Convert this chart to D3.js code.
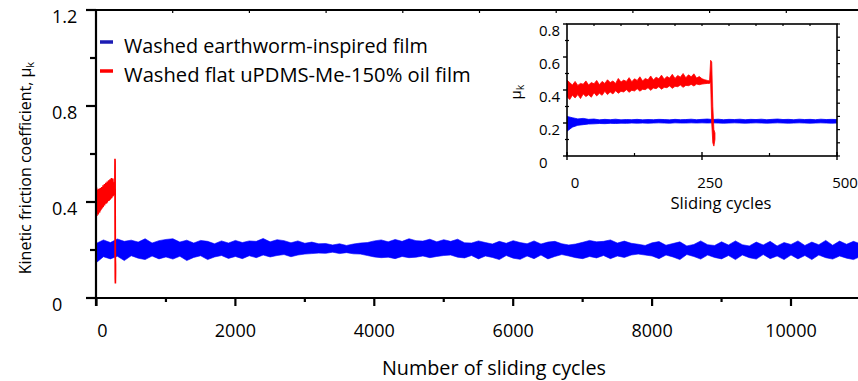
<!DOCTYPE html>
<html><head><meta charset="utf-8">
<script src="https://cdn.jsdelivr.net/npm/d3@7"></script>
<style>
html,body{margin:0;padding:0;background:#fff;}
svg{display:block;font-family:"Open Sans","Noto Sans",sans-serif;}
</style></head>
<body><svg id="c" width="858" height="381"></svg>
<script>
// ---------- DATA ----------
// main chart: blue band envelope, every 100 cycles from 0 to 11000
const blueMainCycles = [0,100,200,300,400,500,600,700,800,900,1000,1100,1200,1300,1400,1500,1600,1700,1800,1900,2000,2100,2200,2300,2400,2500,2600,2700,2800,2900,3000,3100,3200,3300,3400,3500,3600,3700,3800,3900,4000,4100,4200,4300,4400,4500,4600,4700,4800,4900,5000,5100,5200,5300,5400,5500,5600,5700,5800,5900,6000,6100,6200,6300,6400,6500,6600,6700,6800,6900,7000,7100,7200,7300,7400,7500,7600,7700,7800,7900,8000,8100,8200,8300,8400,8500,8600,8700,8800,8900,9000,9100,9200,9300,9400,9500,9600,9700,9800,9900,10000,10100,10200,10300,10400,10500,10600,10700,10800,10900,11000];
const blueMainHigh = [0.228,0.242,0.231,0.246,0.236,0.241,0.233,0.247,0.229,0.239,0.244,
  0.247,0.233,0.241,0.229,0.24,0.236,0.226,0.238,0.229,0.24,
  0.231,0.238,0.236,0.248,0.234,0.243,0.239,0.23,0.238,0.228,
  0.233,0.226,0.227,0.221,0.226,0.219,0.225,0.229,0.231,0.238,
  0.242,0.234,0.244,0.236,0.247,0.239,0.237,0.245,0.234,0.243,
  0.236,0.245,0.23,0.229,0.238,0.231,0.225,0.236,0.228,0.239,
  0.231,0.226,0.238,0.225,0.233,0.236,0.226,0.221,0.225,0.232,
  0.24,0.234,0.236,0.242,0.229,0.237,0.228,0.224,0.219,0.23,
  0.235,0.22,0.227,0.234,0.217,0.223,0.238,0.222,0.219,0.234,
  0.221,0.238,0.222,0.217,0.233,0.221,0.236,0.217,0.231,0.223,
  0.238,0.219,0.233,0.222,0.24,0.22,0.237,0.224,0.236,0.226];
const blueMainLow = [0.148,0.172,0.163,0.174,0.156,0.176,0.166,0.16,0.175,0.163,0.171,
  0.162,0.174,0.156,0.169,0.176,0.16,0.171,0.177,0.165,0.173,
  0.164,0.176,0.168,0.179,0.171,0.177,0.181,0.172,0.179,0.183,
  0.185,0.187,0.186,0.191,0.185,0.189,0.184,0.183,0.177,0.171,
  0.168,0.17,0.164,0.173,0.168,0.17,0.175,0.168,0.173,0.177,
  0.179,0.17,0.167,0.177,0.163,0.175,0.169,0.16,0.177,0.166,
  0.161,0.175,0.164,0.179,0.163,0.173,0.181,0.175,0.168,0.164,
  0.173,0.167,0.177,0.164,0.175,0.169,0.179,0.183,0.179,0.175,
  0.164,0.179,0.171,0.16,0.181,0.173,0.162,0.179,0.169,0.163,
  0.177,0.16,0.179,0.168,0.162,0.181,0.164,0.175,0.16,0.179,
  0.163,0.177,0.16,0.179,0.168,0.162,0.175,0.166,0.16,0.173];

// red band envelope (flat film), cycles 0..274
const redCycles = [0,5,10,15,20,25,30,35,40,45,50,55,60,65,70,75,80,85,90,95,100,105,110,115,120,125,130,135,140,145,150,155,160,165,170,175,180,185,190,195,200,205,210,215,220,225,230,235,240,245,250,255,260,264,266,268,270,272,274];
const redHigh = [0.46,0.445,0.43,0.452,0.428,0.44,0.435,0.455,0.43,0.445,0.438,0.458,0.432,0.452,0.44,0.462,0.445,0.455,0.44,0.47,0.448,0.46,0.452,0.475,0.45,0.468,0.458,0.48,0.455,0.47,0.462,0.485,0.46,0.478,0.468,0.49,0.465,0.482,0.472,0.495,0.47,0.488,0.478,0.5,0.474,0.492,0.48,0.498,0.472,0.482,0.468,0.462,0.458,0.455,0.58,0.57,0.3,0.16,0.14];
const redLow = [0.36,0.342,0.368,0.352,0.372,0.348,0.376,0.36,0.371,0.356,0.384,0.364,0.38,0.368,0.392,0.372,0.388,0.376,0.396,0.38,0.392,0.388,0.402,0.386,0.398,0.394,0.408,0.393,0.404,0.402,0.414,0.398,0.412,0.408,0.42,0.405,0.416,0.414,0.425,0.41,0.422,0.42,0.43,0.416,0.428,0.426,0.434,0.424,0.436,0.432,0.436,0.438,0.44,0.44,0.45,0.2,0.08,0.06,0.1];

// inset blue band envelope, cycles 0..500 every 10
const blueInsetCycles = [0,10,20,30,40,50,60,70,80,90,100,110,120,130,140,150,160,170,180,190,200,210,220,230,240,250,260,270,280,290,300,310,320,330,340,350,360,370,380,390,400,410,420,430,440,450,460,470,480,490,500];
const blueInsetHigh = [0.24,0.232,0.225,0.228,0.222,0.224,0.219,0.222,0.22,0.223,0.219,0.221,0.22,0.222,0.219,0.221,0.22,0.222,0.221,0.219,0.222,0.22,0.221,0.223,0.22,0.222,0.224,0.221,0.223,0.22,0.222,0.221,0.223,0.22,0.222,0.221,0.223,0.22,0.222,0.224,0.221,0.222,0.22,0.223,0.221,0.222,0.22,0.223,0.221,0.222,0.221];
const blueInsetLow = [0.15,0.175,0.186,0.19,0.194,0.195,0.197,0.196,0.198,0.197,0.199,0.198,0.2,0.199,0.2,0.199,0.2,0.201,0.2,0.199,0.201,0.2,0.2,0.201,0.2,0.201,0.2,0.201,0.2,0.199,0.2,0.201,0.2,0.199,0.2,0.201,0.2,0.199,0.2,0.201,0.2,0.199,0.2,0.201,0.2,0.199,0.2,0.201,0.2,0.199,0.2];

// axis ticks and labels
const mainYTicks = [0,0.4,0.8,1.2];
const mainYMinor = [0.2,0.6,1.0];
const mainXTicks = [0,2000,4000,6000,8000,10000];
const mainXMinor = [1000,3000,5000,7000,9000];
const topTicks = [0,1,2,3,4,5,6,7,8,9,10];
const insetYTicks = [0,0.2,0.4,0.6,0.8];
const insetYMinor = [0.1,0.3,0.5,0.7];
const insetRightTicks = [0,0.08,0.16,0.24,0.32,0.4,0.48,0.56,0.64,0.72,0.8];
const insetXTicks = [0,250,500];
const insetXMinor = [125,375];
const insetTopTicks = [50,100,150,200,250,300,350,400,450];
const seriesNames = ["Washed earthworm-inspired film","Washed flat uPDMS-Me-150% oil film"];
const seriesColors = ["#0000ff","#ff0000"];
const legendColors = ["#1c1cb4","#ff0000"];

// ---------- DRAW ----------
const svg = d3.select("#c");
const xMain = d3.scaleLinear().domain([0,10000]).range([96.5,791]);
const yMain = d3.scaleLinear().domain([0,1.2]).range([298,10]);
const xIn = d3.scaleLinear().domain([0,500]).range([567,837]);
const yIn = d3.scaleLinear().domain([0,0.8]).range([156,24]);

function fit(sel, target){
  const n = sel.node(); const w = n.getComputedTextLength();
  const fs = parseFloat(sel.attr("font-size"));
  sel.attr("font-size", (fs*target/w).toFixed(2));
}

const blueMain = blueMainCycles.map((c,i)=>({c, hi:blueMainHigh[i], lo:blueMainLow[i]}));
const red = redCycles.map((c,i)=>({c, hi:redHigh[i], lo:redLow[i]}));
const blueInset = blueInsetCycles.map((c,i)=>({c, hi:blueInsetHigh[i], lo:blueInsetLow[i]}));

// clip main plot at right edge
svg.append("clipPath").attr("id","mclip").append("rect").attr("x",96).attr("y",10).attr("width",762).attr("height",288);
const areaMain = d3.area().x(d=>xMain(d.c)).y0(d=>yMain(d.lo)).y1(d=>yMain(d.hi));
const gm = svg.append("g").attr("clip-path","url(#mclip)");
gm.append("path").datum(blueMain).attr("d",areaMain).attr("fill",seriesColors[0]).attr("stroke",seriesColors[0]).attr("stroke-width",0.6);
gm.append("path").datum(red).attr("d",areaMain).attr("fill",seriesColors[1]).attr("stroke",seriesColors[1]).attr("stroke-width",1.6);

// main axes
const axG = svg.append("g").attr("stroke","#000").attr("stroke-width",2.2).attr("fill","none");
axG.append("line").attr("x1",96).attr("x2",96).attr("y1",9).attr("y2",306);
axG.append("line").attr("x1",86).attr("x2",858).attr("y1",298).attr("y2",298);
axG.append("line").attr("x1",95).attr("x2",858).attr("y1",10).attr("y2",10);
axG.selectAll(".ym").data(mainYTicks).join("line").attr("x1",86).attr("x2",96).attr("y1",d=>yMain(d)).attr("y2",d=>yMain(d));
axG.selectAll(".yn").data(mainYMinor).join("line").attr("x1",90).attr("x2",96).attr("y1",d=>yMain(d)).attr("y2",d=>yMain(d));
axG.selectAll(".xm").data(mainXTicks).join("line").attr("x1",d=>xMain(d)).attr("x2",d=>xMain(d)).attr("y1",298).attr("y2",306);
axG.selectAll(".xn").data(mainXMinor).join("line").attr("x1",d=>xMain(d)).attr("x2",d=>xMain(d)).attr("y1",298).attr("y2",302);
const xTop = d3.scaleLinear().domain([0,10]).range([96,863]);
axG.selectAll(".tt").data(topTicks).join("line").attr("stroke-width",1.2).attr("x1",d=>xTop(d)).attr("x2",d=>xTop(d)).attr("y1",10).attr("y2",13);

// main tick labels
svg.selectAll(".yl").data(mainYTicks).join("text").attr("x",52).attr("y",d=>yMain(d)+13)
  .attr("font-size",18).attr("fill","#000").text(d=>d===0?"0":d.toFixed(1));
svg.selectAll(".xl").data(mainXTicks).join("text").attr("x",d=>xMain(d)+ (d===0?6:0)).attr("y",337)
  .attr("text-anchor","middle").attr("font-size",18).attr("fill","#000").text(d=>d);
// axis titles
const xt = svg.append("text").attr("x",494).attr("y",375).attr("text-anchor","middle").attr("font-size",17).attr("fill","#000").text("Number of sliding cycles");
fit(xt,224);
const yt = svg.append("text").attr("transform","translate(31,168) rotate(-90)").attr("text-anchor","middle").attr("font-size",16).attr("fill","#000");
yt.append("tspan").text("Kinetic friction coefficient, μ");
yt.append("tspan").attr("font-size","0.7em").attr("dy",3).text("k");

// legend
seriesNames.forEach((n,i)=>{
  const y = 42 + i*29;
  svg.append("line").attr("x1",100).attr("x2",113).attr("y1",y).attr("y2",y).attr("stroke",legendColors[i]).attr("stroke-width",3.5);
  const t = svg.append("text").attr("x",124).attr("y",y+11).attr("font-size",17).attr("fill","#000").text(n);
  fit(t, i===0?304:347);
});

// ---------- INSET ----------
svg.append("rect").attr("x",567).attr("y",24).attr("width",270).attr("height",132).attr("fill","#fff");
svg.append("clipPath").attr("id","iclip").append("rect").attr("x",567).attr("y",24).attr("width",270).attr("height",132);
const areaIn = d3.area().x(d=>xIn(d.c)).y0(d=>yIn(d.lo)).y1(d=>yIn(d.hi));
const gi = svg.append("g").attr("clip-path","url(#iclip)");
gi.append("path").datum(blueInset).attr("d",areaIn).attr("fill",seriesColors[0]).attr("stroke",seriesColors[0]).attr("stroke-width",0.8);
gi.append("path").datum(red).attr("d",areaIn).attr("fill",seriesColors[1]).attr("stroke",seriesColors[1]).attr("stroke-width",0.8);

const ig = svg.append("g").attr("stroke","#000").attr("fill","none");
ig.append("rect").attr("x",567).attr("y",24).attr("width",270).attr("height",132).attr("stroke-width",1.6);
ig.selectAll(".a").data(insetYTicks).join("line").attr("stroke-width",1.4).attr("x1",563).attr("x2",567).attr("y1",d=>yIn(d)).attr("y2",d=>yIn(d));
ig.selectAll(".b").data(insetYMinor).join("line").attr("stroke-width",1.2).attr("x1",565).attr("x2",569).attr("y1",d=>yIn(d)).attr("y2",d=>yIn(d));
ig.selectAll(".c").data(insetRightTicks).join("line").attr("stroke-width",1.2).attr("x1",837).attr("x2",840).attr("y1",d=>yIn(d)).attr("y2",d=>yIn(d));
ig.selectAll(".d").data(insetXTicks).join("line").attr("stroke-width",1.4).attr("x1",d=>xIn(d)).attr("x2",d=>xIn(d)).attr("y1",152).attr("y2",160);
ig.selectAll(".e").data(insetXMinor).join("line").attr("stroke-width",1.2).attr("x1",d=>xIn(d)).attr("x2",d=>xIn(d)).attr("y1",153).attr("y2",156);
ig.selectAll(".f").data(insetTopTicks).join("line").attr("stroke-width",1.2).attr("x1",d=>xIn(d)).attr("x2",d=>xIn(d)).attr("y1",24).attr("y2",26);

svg.selectAll(".iyl").data(insetYTicks).join("text").attr("x",539).attr("y",d=>yIn(d)+12)
  .attr("font-size",15).attr("fill","#000").text(d=>d===0?"0":d.toFixed(1));
svg.selectAll(".ixl").data(insetXTicks).join("text").attr("x",d=>xIn(d)+8).attr("y",188)
  .attr("text-anchor","middle").attr("font-size",15).attr("fill","#000").text(d=>d);
const st = svg.append("text").attr("x",721).attr("y",209).attr("text-anchor","middle").attr("font-size",14).attr("fill","#000").text("Sliding cycles");
fit(st,101);
const mu = svg.append("text").attr("transform","translate(521,92) rotate(-90)").attr("text-anchor","middle").attr("font-size",15).attr("fill","#000");
mu.append("tspan").text("μ");
mu.append("tspan").attr("font-size","0.7em").attr("dy",3).text("k");
</script></body></html>
